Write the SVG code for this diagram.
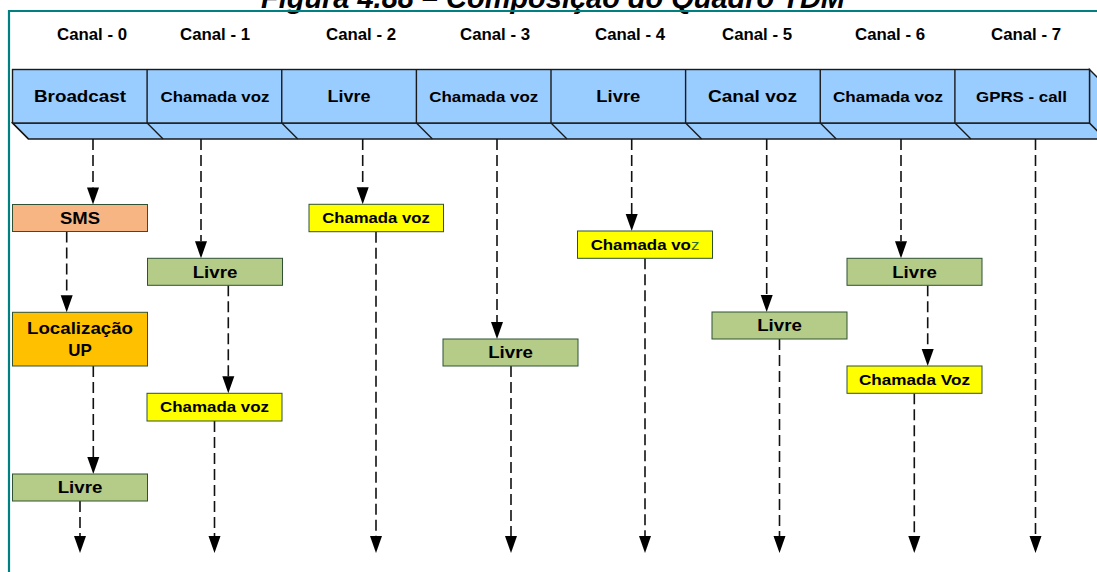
<svg xmlns="http://www.w3.org/2000/svg" width="1097" height="572" viewBox="0 0 1097 572">
  <style>
    text { font-family: "Liberation Sans", Arial, sans-serif; font-weight: bold; fill: #000; }
    .title { font-size: 29px; font-style: italic; }
    .canal { font-size: 16px; }
    .seg { font-size: 17px; }
    .segs { font-size: 15px; }
    .nt { font-size: 17px; }
    .ns { font-size: 15.5px; }
    .face { fill: #99CCFF; stroke: #1a1a1a; stroke-width: 1.4; stroke-linejoin: miter; }
    .div { stroke: #1a1a1a; stroke-width: 1.4; fill: none; }
    .box { stroke: #2F5233; stroke-width: 1; }
    .sms { fill: #F8B584; }
    .loc { fill: #FFC000; }
    .livre { fill: #B5CB88; }
    .voz { fill: #FFFF00; }
    .conn path { fill: none; stroke: #111; stroke-width: 1.6; stroke-dasharray: 11 5; marker-end: url(#arrow); }
  </style>
  <defs>
    <marker id="arrow" viewBox="0 -6 17 12" refX="0" refY="0" markerWidth="17" markerHeight="12" markerUnits="userSpaceOnUse" orient="auto" overflow="visible">
      <path d="M0,-6 L17,0 L0,6 Z" fill="#000"/>
    </marker>
  </defs>

  <rect width="1097" height="572" fill="#fff"/>

  <!-- title -->
  <text class="title" x="553" y="8" text-anchor="middle" textLength="584" lengthAdjust="spacingAndGlyphs">Figura 4.88 – Composição do Quadro TDM</text>

  <!-- frame -->
  <path d="M9,572 V11 H1097" fill="none" stroke="#008080" stroke-width="2.2"/>

  <!-- channel headings -->
  <g id="headings">
    <text class="canal" x="92" y="40" text-anchor="middle" textLength="70" lengthAdjust="spacingAndGlyphs">Canal - 0</text>
    <text class="canal" x="215" y="40" text-anchor="middle" textLength="70" lengthAdjust="spacingAndGlyphs">Canal - 1</text>
    <text class="canal" x="361" y="40" text-anchor="middle" textLength="70" lengthAdjust="spacingAndGlyphs">Canal - 2</text>
    <text class="canal" x="495" y="40" text-anchor="middle" textLength="70" lengthAdjust="spacingAndGlyphs">Canal - 3</text>
    <text class="canal" x="630" y="40" text-anchor="middle" textLength="70" lengthAdjust="spacingAndGlyphs">Canal - 4</text>
    <text class="canal" x="757" y="40" text-anchor="middle" textLength="70" lengthAdjust="spacingAndGlyphs">Canal - 5</text>
    <text class="canal" x="890" y="40" text-anchor="middle" textLength="70" lengthAdjust="spacingAndGlyphs">Canal - 6</text>
    <text class="canal" x="1026" y="40" text-anchor="middle" textLength="70" lengthAdjust="spacingAndGlyphs">Canal - 7</text>
  </g>

  <!-- TDM frame bar (3D slab) -->
  <g id="frame-bar">
    <polygon class="face" points="12.5,123 1089.5,123 1105.5,139 28.5,139"/>
    <polygon class="face" points="1089.5,69.5 1105.5,85.5 1105.5,139 1089.5,123"/>
    <rect class="face" x="12.5" y="69.5" width="1077" height="53.5"/>
    <path class="div" d="M147.1,69.5 V123 l16,16 M281.75,69.5 V123 l16,16 M416.4,69.5 V123 l16,16 M551,69.5 V123 l16,16 M685.6,69.5 V123 l16,16 M820.25,69.5 V123 l16,16 M954.9,69.5 V123 l16,16 M12.5,123 l16,16"/>
    <text class="seg" x="80" y="101.5" text-anchor="middle" textLength="92" lengthAdjust="spacingAndGlyphs">Broadcast</text>
    <text class="segs" x="215" y="101.5" text-anchor="middle" textLength="109" lengthAdjust="spacingAndGlyphs">Chamada voz</text>
    <text class="seg" x="349" y="101.5" text-anchor="middle" textLength="43" lengthAdjust="spacingAndGlyphs">Livre</text>
    <text class="segs" x="483.7" y="101.5" text-anchor="middle" textLength="109" lengthAdjust="spacingAndGlyphs">Chamada voz</text>
    <text class="seg" x="618.3" y="101.5" text-anchor="middle" textLength="44" lengthAdjust="spacingAndGlyphs">Livre</text>
    <text class="seg" x="752.5" y="101.5" text-anchor="middle" textLength="89" lengthAdjust="spacingAndGlyphs">Canal voz</text>
    <text class="segs" x="888" y="101.5" text-anchor="middle" textLength="110" lengthAdjust="spacingAndGlyphs">Chamada voz</text>
    <text class="segs" x="1021.5" y="101.5" text-anchor="middle" textLength="91" lengthAdjust="spacingAndGlyphs">GPRS - call</text>
  </g>

  <!-- connectors -->
  <g id="connectors" class="conn">
    <path d="M93,139 V187.5"/>
    <path d="M66.7,231.5 V295.3"/>
    <path d="M93.3,366 V457"/>
    <path d="M80,501 V536"/>
    <path d="M201,139 V241.3"/>
    <path d="M228.3,285.3 V376.3"/>
    <path d="M214.5,421 V536"/>
    <path d="M362.7,139 V187.3"/>
    <path d="M376,231.7 V536"/>
    <path d="M497,139 V322"/>
    <path d="M511,366 V536"/>
    <path d="M631.7,139 V214"/>
    <path d="M645,258.3 V536"/>
    <path d="M766.7,139 V295"/>
    <path d="M779.5,339 V536"/>
    <path d="M901,139 V241.3"/>
    <path d="M927.7,285.3 V349"/>
    <path d="M914.3,393.3 V536"/>
    <path d="M1035.5,139 V536"/>
  </g>

  <!-- channel 0 -->
  <g id="sms">
    <rect class="box sms" x="12.5" y="204.5" width="135" height="27"/>
    <text class="nt" x="80" y="223.5" text-anchor="middle" textLength="40" lengthAdjust="spacingAndGlyphs">SMS</text>
  </g>
  <g id="localizacao">
    <rect class="box loc" x="12.5" y="312.3" width="135" height="53.7"/>
    <text class="nt" x="80" y="334" text-anchor="middle" textLength="106" lengthAdjust="spacingAndGlyphs">Localização</text>
    <text class="nt" x="80" y="356" text-anchor="middle" textLength="23.5" lengthAdjust="spacingAndGlyphs">UP</text>
  </g>
  <g id="livre-0">
    <rect class="box livre" x="12.5" y="474" width="135" height="27"/>
    <text class="nt" x="80" y="493" text-anchor="middle" textLength="44.7" lengthAdjust="spacingAndGlyphs">Livre</text>
  </g>

  <!-- channel 1 -->
  <g id="livre-1">
    <rect class="box livre" x="147.5" y="258.3" width="135" height="27"/>
    <text class="nt" x="215" y="277.5" text-anchor="middle" textLength="44.7" lengthAdjust="spacingAndGlyphs">Livre</text>
  </g>
  <g id="voz-1">
    <rect class="box voz" x="147" y="393.3" width="135" height="27.7"/>
    <text class="ns" x="214.5" y="412" text-anchor="middle" textLength="109" lengthAdjust="spacingAndGlyphs">Chamada voz</text>
  </g>

  <!-- channel 2 -->
  <g id="voz-2">
    <rect class="box voz" x="309" y="204.3" width="134.5" height="27.4"/>
    <text class="ns" x="376" y="222.5" text-anchor="middle" textLength="107.6" lengthAdjust="spacingAndGlyphs">Chamada voz</text>
  </g>

  <!-- channel 3 -->
  <g id="livre-3">
    <rect class="box livre" x="443" y="339" width="135" height="27"/>
    <text class="nt" x="510.5" y="358.2" text-anchor="middle" textLength="44.7" lengthAdjust="spacingAndGlyphs">Livre</text>
  </g>

  <!-- channel 4 -->
  <g id="voz-4">
    <rect class="box voz" x="577.5" y="231" width="135" height="27.3"/>
    <text class="ns" x="645" y="250" text-anchor="middle" textLength="108.7" lengthAdjust="spacingAndGlyphs">Chamada vo<tspan fill="#2E6B30" font-weight="normal">z</tspan></text>
  </g>

  <!-- channel 5 -->
  <g id="livre-5">
    <rect class="box livre" x="712" y="312" width="135" height="27"/>
    <text class="nt" x="779.5" y="331.2" text-anchor="middle" textLength="44.7" lengthAdjust="spacingAndGlyphs">Livre</text>
  </g>

  <!-- channel 6 -->
  <g id="livre-6">
    <rect class="box livre" x="847" y="258.3" width="135" height="27"/>
    <text class="nt" x="914.5" y="277.5" text-anchor="middle" textLength="44.5" lengthAdjust="spacingAndGlyphs">Livre</text>
  </g>
  <g id="voz-6">
    <rect class="box voz" x="847" y="366" width="135" height="27.3"/>
    <text class="ns" x="914.5" y="384.5" text-anchor="middle" textLength="111" lengthAdjust="spacingAndGlyphs">Chamada Voz</text>
  </g>
</svg>
